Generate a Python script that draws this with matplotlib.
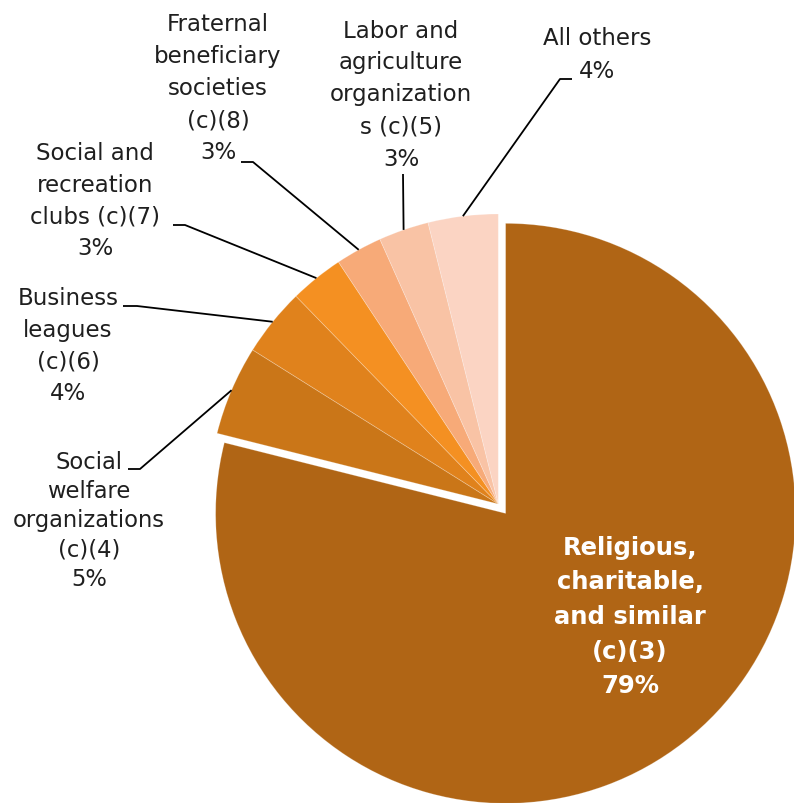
import numpy as np
import matplotlib
matplotlib.use("Agg")
import matplotlib.pyplot as plt

# Share of exempt organizations by 501(c) type
categories = [
    "Religious,\ncharitable,\nand similar\n(c)(3)",
    "Social\nwelfare\norganizations\n(c)(4)",
    "Business\nleagues\n(c)(6)",
    "Social and\nrecreation\nclubs (c)(7)",
    "Fraternal\nbeneficiary\nsocieties\n(c)(8)",
    "Labor and\nagriculture\norganization\ns (c)(5)",
    "All others",
]
shares = [79.0, 5.0, 3.8, 3.0, 2.6, 2.8, 3.9]

colors = ["#B06515", "#CA7618", "#E0821C", "#F49022",
          "#F7AA78", "#F9C3A5", "#FBD4C3"]

W, H = 794, 804
fig = plt.figure(figsize=(W / 100, H / 100), dpi=100)
ax = fig.add_axes([0, 0, 1, 1])

cx, cy, R = 498.3, H - 505.0, 290.0
# pie offsets wedges by explode * 1 data unit, so scale by the radius
explode = [0.041 * R] + [0] * (len(shares) - 1)

wedges, _ = ax.pie(
    shares, colors=colors, startangle=90, counterclock=False,
    explode=explode, center=(cx, cy), radius=R,
    wedgeprops=dict(edgecolor=(1, 1, 1, 0.25), linewidth=0.6),
)

ax.set_xlim(0, W)
ax.set_ylim(0, H)
ax.set_aspect("equal")
ax.axis("off")

txt_color = "#1f1f1f"
font = "DejaVu Sans"

# Main slice label inside the wedge
ax.text(630, H - 617, f"{categories[0]}\n{round(shares[0])}%",
        ha="center", va="center", color="white", fontsize=17.5,
        fontweight="bold", family=font, linespacing=1.56)

# Outside labels: (text centre x, y in px from top, font size, line spacing,
#                  leader tail x, leader elbow x, leader y from top)
layout = [
    None,
    (89, 521, 16.3, 1.35, 128, 140, 470),
    (68, 346, 16.5, 1.48, 123, 137, 307),
    (95, 201, 16.5, 1.48, 173, 185, 226),
    (218, 88.5, 16.5, 1.50, 241, 253, 163),
    (401, 95, 16.5, 1.50, 403, 403, 175),
    (597, 55, 16.5, 1.60, 572, 560, 80),
]

for i, w in enumerate(wedges):
    if layout[i] is None:
        continue
    tx, ty, fs, ls, xt, xe, ly = layout[i]
    ax.text(tx, H - ty, f"{categories[i]}\n{round(shares[i])}%",
            ha="center", va="center", color=txt_color, fontsize=fs,
            family=font, linespacing=ls)
    mid = np.deg2rad((w.theta1 + w.theta2) / 2)
    px = w.center[0] + w.r * np.cos(mid)
    py = w.center[1] + w.r * np.sin(mid)
    ax.plot([px, xe, xt], [py, H - ly, H - ly], color="black",
            lw=1.3, solid_capstyle="butt", zorder=3)

fig.savefig("out.png", dpi=100)
